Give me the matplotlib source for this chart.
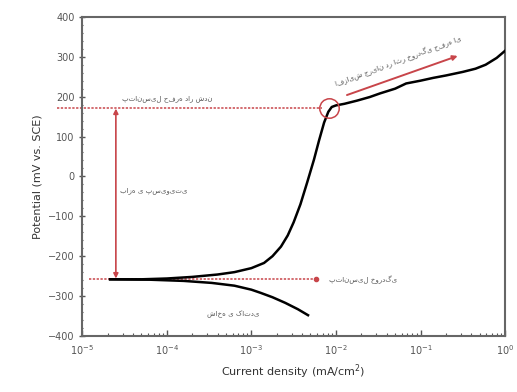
import numpy as np
import matplotlib.pyplot as plt
from matplotlib.ticker import MultipleLocator

# Anodic branch (log10 of current in mA/cm2, potential in mV)
anodic_logi = [-4.67, -4.3, -4.0, -3.7, -3.4, -3.2, -3.0, -2.85, -2.75, -2.65,
               -2.57, -2.5, -2.42, -2.34, -2.26, -2.2, -2.14, -2.09, -2.05,
               -2.0, -1.9, -1.75, -1.6, -1.48, -1.3, -1.17, -1.0, -0.85,
               -0.7, -0.5, -0.35, -0.23, -0.1, 0.0]
anodic_E = [-258, -258, -256, -252, -246, -240, -230, -217, -200, -176,
            -148, -115, -70, -15, 42, 90, 135, 162, 174,
            178, 182, 190, 199, 208, 220, 233, 240, 247,
            253, 262, 270, 280, 297, 315]

# Cathodic branch
cathodic_logi = [-4.67, -4.2, -3.8, -3.47, -3.2, -3.0, -2.89, -2.75, -2.6, -2.45, -2.33]
cathodic_E = [-258, -259, -262, -267, -274, -284, -292, -303, -317, -333, -348]

E_pit = 172
E_corr = -258
i_marker = 2.5e-5

lbl_pit = 'پتانسیل حفره دار شدن'
lbl_passive = 'بازه ی پسیویتی'
lbl_corr = 'پتانسیل خوردگی'
lbl_cath = 'شاخه ی کاتدی'
lbl_incr = 'افزایش جریان در اثر خوردگی حفره ای'

red = '#c8454a'
grey = '#555555'

plt.rcParams['font.family'] = ['DejaVu Sans']
fig = plt.figure(figsize=(5.17, 3.92), dpi=100)
ax = fig.add_axes([0.159, 0.143, 0.818, 0.814])

ax.plot(10 ** np.array(anodic_logi), anodic_E, color='black', lw=1.8, zorder=3)
ax.plot(10 ** np.array(cathodic_logi), cathodic_E, color='black', lw=1.8, zorder=3)

# dotted reference lines
ax.plot([5.1e-6, 6.8e-3], [E_pit, E_pit], color=red, lw=1.1,
        linestyle=(0, (1.5, 1)), clip_on=False, zorder=2)
ax.plot([1.2e-5, 5.8e-3], [E_corr, E_corr], color=red, lw=1.1,
        linestyle=(0, (1.5, 1)), zorder=2)
ax.plot([5.8e-3], [E_corr], 'o', color=red, ms=3, zorder=2)

# passive range arrow
ax.annotate('', xy=(i_marker, E_pit - 2), xytext=(i_marker, E_corr + 2),
            arrowprops=dict(arrowstyle='<|-|>', color=red, lw=1.2,
                            mutation_scale=7, shrinkA=0, shrinkB=0))

# pitting circle
ax.plot([8.3e-3], [E_pit], 'o', ms=14, mfc='none', mec=red, mew=1.1, zorder=4)

# current increase arrow
ax.annotate('', xy=(0.275, 302), xytext=(1.35e-2, 204),
            arrowprops=dict(arrowstyle='-|>', color=red, lw=1.4,
                            mutation_scale=7, shrinkA=0, shrinkB=0))

tc = '#555555'
ax.text(1.0e-4, 196, lbl_pit, fontsize=5, color=tc, ha='center', va='center')
ax.text(7.0e-5, -35, lbl_passive, fontsize=5, color=tc, ha='center', va='center')
ax.text(8.2e-3, E_corr, lbl_corr, fontsize=5, color=tc, ha='left', va='center')
ax.text(6.1e-4, -346, lbl_cath, fontsize=5, color=tc, ha='center', va='center')
ax.text(5.5e-2, 290, lbl_incr, fontsize=5, color=tc, ha='center', va='center',
        rotation=20, rotation_mode='anchor')

ax.set_xscale('log')
ax.set_xlim(1e-5, 1)
ax.set_ylim(-400, 400)
ax.yaxis.set_major_locator(MultipleLocator(100))
ax.yaxis.set_minor_locator(MultipleLocator(20))

for s in ax.spines.values():
    s.set_color('#666666')
    s.set_linewidth(1.5)
ax.tick_params(axis='both', which='major', labelsize=7, colors=grey, length=4, width=1)
ax.tick_params(axis='both', which='minor', colors=grey, length=2, width=0.8)
ax.tick_params(axis='x', which='both', direction='in')
ax.tick_params(axis='y', which='both', direction='inout')
ax.tick_params(axis='x', pad=5)

ax.set_xlabel('Current density (mA/cm$^2$)', fontsize=8, color='#333333')
ax.set_ylabel('Potential (mV vs. SCE)', fontsize=8, color='#333333')

fig.savefig('out.png', dpi=100)
